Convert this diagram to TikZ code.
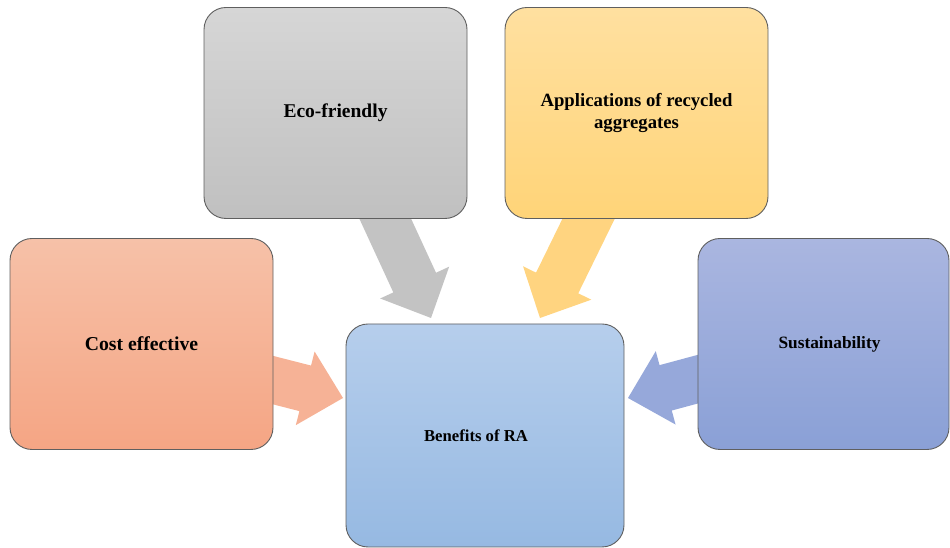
\documentclass[tikz,border=0pt]{standalone}
\usepackage{fontspec}
\setmainfont{Liberation Serif}
\usetikzlibrary{calc,backgrounds}
\definecolor{costtop}{RGB}{246,193,168}
\definecolor{costbot}{RGB}{245,165,132}
\definecolor{costarr}{RGB}{246,178,150}
\definecolor{ecotop}{RGB}{214,214,214}
\definecolor{ecobot}{RGB}{192,192,192}
\definecolor{ecoarr}{RGB}{195,195,195}
\definecolor{apptop}{RGB}{255,224,160}
\definecolor{appbot}{RGB}{255,212,120}
\definecolor{apparr}{RGB}{255,212,128}
\definecolor{sustop}{RGB}{170,182,224}
\definecolor{susbot}{RGB}{138,160,214}
\definecolor{susarr}{RGB}{150,168,218}
\definecolor{bentop}{RGB}{182,206,236}
\definecolor{benbot}{RGB}{150,185,226}
\definecolor{edge}{RGB}{95,95,95}
\tikzset{
  box/.style={draw=edge,line width=0.9pt,rounded corners=22pt,align=center,
    minimum width=263pt,minimum height=211pt},
}
% block arrow: #1 start, #2 tip, #3 colour
\newcommand{\blockarrow}[3]{%
  \coordinate (hb) at ($(#2)!39pt!(#1)$);
  \fill[#3] ($(#1)!23.5pt!90:(#2)$) -- ($(hb)!23.5pt!90:(#2)$)
    -- ($(hb)!38pt!90:(#2)$) -- (#2) -- ($(hb)!38pt!-90:(#2)$)
    -- ($(hb)!23.5pt!-90:(#2)$) -- ($(#1)!23.5pt!-90:(#2)$) -- cycle;
}
\begin{document}
\begin{tikzpicture}[x=1pt,y=1pt]
  \useasboundingbox (0,0) rectangle (950,548);
  \node [box,top color=costtop,bottom color=costbot,
    font=\fontsize{19.7}{22}\selectfont\bfseries] (cost) at (141.5,204) {Cost effective};
  \node [box,top color=ecotop,bottom color=ecobot,
    font=\fontsize{19.5}{22}\selectfont\bfseries] (eco) at (335.5,435) {Eco-friendly};
  \node [box,top color=apptop,bottom color=appbot,
    font=\fontsize{18.7}{22}\selectfont\bfseries] (app) at (636.5,435)
    {Applications of recycled\\ aggregates};
  \node [box,top color=sustop,bottom color=susbot,minimum width=251pt,
    font=\fontsize{17.3}{20}\selectfont\bfseries] (sus) at (823.5,204)
    {\hspace*{12pt}Sustainability};
  \node [box,top color=bentop,bottom color=benbot,minimum width=278pt,minimum height=223pt,
    font=\fontsize{16.7}{20}\selectfont\bfseries] (ben) at (485,112.5)
    {\hspace*{-18pt}Benefits of RA};
  % arrows go behind the boxes
  \coordinate (costS) at (253,173);
  \coordinate (costT) at (343,150);
  \coordinate (ecoS) at (376.6,348);
  \coordinate (ecoT) at (431,230);
  \coordinate (appS) at (597.8,348);
  \coordinate (appT) at (540,230);
  \coordinate (susS) at (717,174);
  \coordinate (susT) at (628,150);
  \begin{scope}[on background layer]
    \blockarrow{costS}{costT}{costarr}
    \blockarrow{ecoS}{ecoT}{ecoarr}
    \blockarrow{appS}{appT}{apparr}
    \blockarrow{susS}{susT}{susarr}
  \end{scope}
\end{tikzpicture}
\end{document}
